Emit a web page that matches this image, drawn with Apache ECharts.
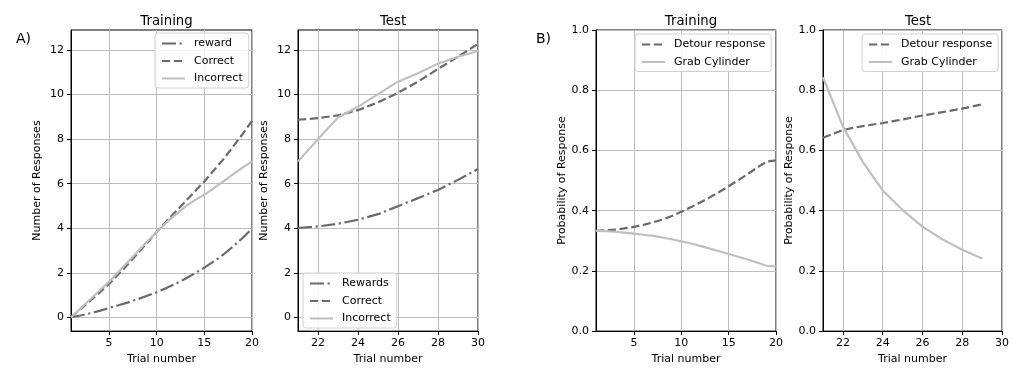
<!DOCTYPE html>
<html>
<head>
<meta charset="utf-8">
<script src="https://cdn.jsdelivr.net/npm/echarts@6/dist/echarts.min.js"></script>
<style>
  html, body { margin: 0; padding: 0; background: #fff; }
  #chart { width: 1012px; height: 370px; }
</style>
</head>
<body>
<div id="chart"></div>
<script>
// Trial numbers
const trainTrials = [1, 2, 3, 4, 5, 6, 7, 8, 9, 10, 11, 12, 13, 14, 15, 16, 17, 18, 19, 20];
const testTrials = [21, 22, 23, 24, 25, 26, 27, 28, 29, 30];
const testTrialsB = [21, 22, 23, 24, 25, 26, 27, 28, 29];

// A) cumulative number of responses, training
const trainReward = [0, 0.08, 0.18, 0.29, 0.42, 0.54, 0.67, 0.81, 0.97, 1.13, 1.31, 1.51, 1.73, 1.97, 2.23, 2.51, 2.82, 3.17, 3.56, 3.98];
const trainCorrect = [0, 0.36, 0.73, 1.11, 1.5, 1.94, 2.39, 2.87, 3.35, 3.84, 4.3, 4.75, 5.2, 5.65, 6.1, 6.6, 7.1, 7.65, 8.22, 8.82];
const trainIncorrect = [0, 0.4, 0.8, 1.2, 1.6, 2.05, 2.5, 2.95, 3.4, 3.84, 4.25, 4.62, 4.97, 5.26, 5.5, 5.8, 6.1, 6.42, 6.72, 7.0];

// A) cumulative number of responses, test
const testRewards = [4.01, 4.08, 4.2, 4.38, 4.63, 4.99, 5.35, 5.72, 6.17, 6.66];
const testCorrect = [8.87, 8.94, 9.07, 9.3, 9.65, 10.08, 10.58, 11.15, 11.7, 12.28];
const testIncorrect = [7.0, 8.0, 8.97, 9.45, 10.02, 10.58, 10.96, 11.39, 11.7, 11.96];

// B) probability of response
const trainDetour = [0.333, 0.335, 0.337, 0.341, 0.346, 0.353, 0.361, 0.370, 0.382, 0.396, 0.411, 0.427, 0.444, 0.462, 0.481, 0.501, 0.521, 0.543, 0.563, 0.567];
const trainGrab = [0.333, 0.332, 0.330, 0.327, 0.324, 0.320, 0.316, 0.311, 0.305, 0.298, 0.291, 0.283, 0.274, 0.265, 0.256, 0.247, 0.238, 0.228, 0.217, 0.214];
const testDetour = [0.642, 0.668, 0.681, 0.691, 0.703, 0.716, 0.727, 0.739, 0.753];
const testGrab = [0.843, 0.68, 0.562, 0.467, 0.402, 0.347, 0.305, 0.27, 0.241];

// Tick labels
const trainTicks = [5, 10, 15, 20];
const testTicks = [22, 24, 26, 28, 30];
const countTicks = [0, 2, 4, 6, 8, 10, 12];
const probTicks = [0, 0.2, 0.4, 0.6, 0.8, 1.0];

const FONT = 'DejaVu Sans';
const DARK = '#6a6a6a';
const LIGHT = '#bfbfbf';
const GRIDC = '#bdbdbd';
const DASHDOT = [14, 3.6, 2.2, 3.6];
const DASHED = [8.2, 3.6];

function pairs(xs, ys) { return xs.map((x, i) => [x, ys[i]]); }

const grids = [
  { left: 71, top: 30, width: 181, height: 302 },
  { left: 298, top: 30, width: 180, height: 302 },
  { left: 596, top: 30, width: 180, height: 302 },
  { left: 823, top: 30, width: 180, height: 302 }
].map(g => Object.assign({ show: true, borderColor: '#000', borderWidth: 1, backgroundColor: 'transparent' }, g));

function xAxis(idx, min, max, ticks) {
  return {
    type: 'value', gridIndex: idx, min: min, max: max,
    name: 'Trial number', nameLocation: 'middle', nameGap: 22,
    nameTextStyle: { fontFamily: FONT, fontSize: 11, color: '#000' },
    axisLine: { show: true, onZero: false, lineStyle: { color: '#000', width: 1 } },
    axisTick: { show: true, length: 4, inside: false, customValues: ticks, lineStyle: { color: '#000' } },
    axisLabel: { customValues: ticks, margin: 7, fontFamily: FONT, fontSize: 11, color: '#000' },
    splitLine: { show: true, lineStyle: { color: GRIDC, width: 1 } }
  };
}

function yAxis(idx, min, max, ticks, name, fmt) {
  return {
    type: 'value', gridIndex: idx, min: min, max: max,
    name: name, nameLocation: 'middle', nameGap: 28,
    nameTextStyle: { fontFamily: FONT, fontSize: 11, color: '#000' },
    axisLine: { show: true, onZero: false, lineStyle: { color: '#000', width: 1 } },
    axisTick: { show: true, length: 4, inside: false, customValues: ticks, lineStyle: { color: '#000' } },
    axisLabel: { customValues: ticks, margin: 7, fontFamily: FONT, fontSize: 11, color: '#000', formatter: fmt },
    splitLine: { show: true, lineStyle: { color: GRIDC, width: 1 } }
  };
}

function line(name, idx, xs, ys, color, type) {
  return {
    type: 'line', name: name, xAxisIndex: idx, yAxisIndex: idx,
    data: pairs(xs, ys), showSymbol: false, symbol: 'none', smooth: false,
    lineStyle: { color: color, width: 2.2, type: type, cap: 'butt' },
    itemStyle: { color: color }, z: 3
  };
}

// Legend keys show only the line sample, no marker
function legend(names, pos) {
  return Object.assign({
    data: names, orient: 'vertical', itemWidth: 23, itemHeight: 10, itemGap: 6.5,
    padding: [5, 6, 4, 6],
    backgroundColor: 'rgba(255,255,255,0.85)', borderColor: '#d0d0d0', borderWidth: 1, borderRadius: 3,
    textStyle: { fontFamily: FONT, fontSize: 11, color: '#000', padding: [0, 0, 0, 4] },
    itemStyle: { opacity: 0, borderWidth: 0 },
    selectedMode: false
  }, pos);
}

function title(text, cx, top) {
  return { text: text, left: cx, top: top, textAlign: 'center',
    textStyle: { fontFamily: FONT, fontSize: 13.3, fontWeight: 'normal', color: '#000' } };
}

const countFmt = v => String(v);
const probFmt = v => Number(v).toFixed(1);

const option = {
  animation: false,
  backgroundColor: '#fff',
  title: [
    title('Training', 161.5, 10),
    title('Test', 388, 10),
    title('Training', 686, 10),
    title('Test', 913, 10),
    { text: 'A)', left: 11, top: 27, textStyle: { fontFamily: FONT, fontSize: 14, fontWeight: 'normal', color: '#000' } },
    { text: 'B)', left: 531, top: 27, textStyle: { fontFamily: FONT, fontSize: 14, fontWeight: 'normal', color: '#000' } }
  ],
  grid: grids,
  xAxis: [
    xAxis(0, 1, 20, trainTicks),
    xAxis(1, 21, 30, testTicks),
    xAxis(2, 1, 20, trainTicks),
    xAxis(3, 21, 30, testTicks)
  ],
  yAxis: [
    yAxis(0, -0.62, 12.9, countTicks, 'Number of Responses', countFmt),
    yAxis(1, -0.62, 12.9, countTicks, 'Number of Responses', countFmt),
    yAxis(2, 0, 1, probTicks, 'Probability of Response', probFmt),
    yAxis(3, 0, 1, probTicks, 'Probability of Response', probFmt)
  ],
  legend: [
    legend(['reward', 'Correct', 'Incorrect'], { left: 155, top: 33 }),
    legend(['Rewards', 'Correct', 'Incorrect'], { left: 303, top: 273 }),
    legend(['Detour response', 'Grab Cylinder'], { left: 635, top: 34 }),
    legend(['Detour response', 'Grab Cylinder'], { left: 862, top: 34 })
  ],
  series: [
    line('reward', 0, trainTrials, trainReward, DARK, DASHDOT),
    line('Correct', 0, trainTrials, trainCorrect, DARK, DASHED),
    line('Incorrect', 0, trainTrials, trainIncorrect, LIGHT, 'solid'),
    line('Rewards', 1, testTrials, testRewards, DARK, DASHDOT),
    line('Correct', 1, testTrials, testCorrect, DARK, DASHED),
    line('Incorrect', 1, testTrials, testIncorrect, LIGHT, 'solid'),
    line('Detour response', 2, trainTrials, trainDetour, DARK, DASHED),
    line('Grab Cylinder', 2, trainTrials, trainGrab, LIGHT, 'solid'),
    line('Detour response', 3, testTrialsB, testDetour, DARK, DASHED),
    line('Grab Cylinder', 3, testTrialsB, testGrab, LIGHT, 'solid')
  ]
};

const chart = echarts.init(document.getElementById('chart'), null, { renderer: 'canvas' });
chart.setOption(option);
</script>
</body>
</html>
